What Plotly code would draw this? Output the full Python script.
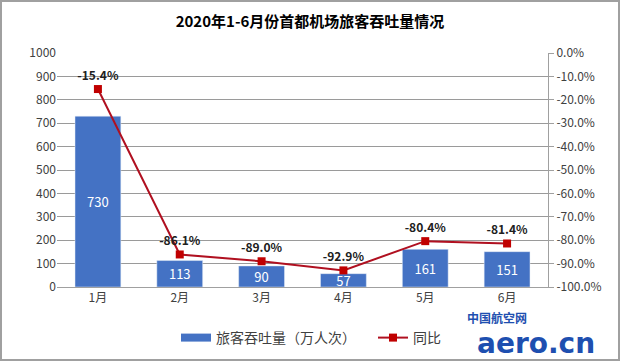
import plotly.graph_objects as go

months = ["1月", "2月", "3月", "4月", "5月", "6月"]
passengers = [730, 113, 90, 57, 161, 151]
yoy = [-15.4, -86.1, -89.0, -92.9, -80.4, -81.4]
left_ticks = list(range(0, 1001, 100))
right_ticks = list(range(0, -101, -10))

FONT = "Noto Sans CJK SC, DejaVu Sans, sans-serif"

fig = go.Figure()
fig.add_trace(go.Bar(
    x=months, y=passengers, name="旅客吞吐量（万人次）", showlegend=False,
    marker=dict(color="#4472C4"), width=0.56,
    text=[str(v) for v in passengers], textposition="inside",
    insidetextanchor="middle", textangle=0, constraintext="none",
    textfont=dict(color="white", size=13, family=FONT),
    cliponaxis=False,
    yaxis="y",
))
# legend proxy for the bar series (wide rectangle swatch)
fig.add_trace(go.Scatter(
    x=[None], y=[None], name="旅客吞吐量（万人次）", mode="lines",
    line=dict(color="#4472C4", width=8), yaxis="y", showlegend=True,
))
fig.add_trace(go.Scatter(
    x=months, y=yoy, name="同比", mode="lines+markers+text",
    line=dict(color="#B01020", width=2),
    marker=dict(symbol="square", size=8, color="#C00000"),
    text=[f"<b>{v:.1f}%</b>" for v in yoy], textposition="top center",
    textfont=dict(color="#202020", size=12, family=FONT),
    cliponaxis=False,
    yaxis="y2",
))

fig.update_layout(
    width=620, height=361,
    margin=dict(l=57, r=72, t=53, b=74, autoexpand=False),
    paper_bgcolor="white", plot_bgcolor="white",
    font=dict(family=FONT, size=12, color="#404040"),
    title=dict(text="<b>2020年1-6月份首都机场旅客吞吐量情况</b>",
               x=0.5, xanchor="center", yref="container", y=0.94,
               yanchor="middle",
               font=dict(size=15, color="black", family=FONT)),
    xaxis=dict(showline=True, linecolor="#A0A0A0", linewidth=1,
               automargin=False,
               tickfont=dict(size=12, color="#404040"), ticks=""),
    yaxis=dict(range=[0, 1000], tickvals=left_ticks, automargin=False,
               showgrid=True, gridcolor="#9A9A9A", gridwidth=1,
               zeroline=False, showline=False,
               tickfont=dict(size=12, color="#404040")),
    yaxis2=dict(range=[-100, 0], tickvals=right_ticks, automargin=False,
                ticktext=[f"{v:.1f}%" for v in right_ticks],
                overlaying="y", side="right", showgrid=False,
                zeroline=False, showline=True, linecolor="#A0A0A0",
                ticks="outside", ticklen=5, tickcolor="#A0A0A0",
                tickfont=dict(size=12, color="#404040")),
    legend=dict(orientation="h", x=(176-57)/491, xanchor="left",
                yref="container", y=(361-338)/361, yanchor="middle",
                font=dict(size=14, color="#404040"),
                bgcolor="rgba(0,0,0,0)", itemwidth=30,
                entrywidth=152, entrywidthmode="pixels"),
    bargap=0.44,
)

fig.add_shape(type="rect", xref="paper", yref="paper",
              x0=-56/491, x1=1+71/491, y0=-73/234, y1=1+52/234,
              line=dict(color="#A0A0A0", width=2))
fig.add_annotation(text="<b>中国航空网</b>", xref="paper", yref="paper",
                   x=(497-57)/491, y=(287-317)/234, showarrow=False,
                   xanchor="center", yanchor="middle",
                   font=dict(size=12, color="#1E4FB0", family=FONT))
fig.add_annotation(text="<b>aero.cn</b>", xref="paper", yref="paper",
                   x=(536-57)/491, y=(287-343)/234, showarrow=False,
                   xanchor="center", yanchor="middle",
                   font=dict(size=28, color="#1E4FB0", family="DejaVu Sans"))

fig.write_html("out.html", config={"displayModeBar": False})

# remove the browser's default body margin so the figure fills the window
with open("out.html", encoding="utf-8") as f:
    html = f.read()
html = html.replace("<head>", "<head><style>html,body{margin:0;padding:0;overflow:hidden}</style>", 1)
with open("out.html", "w", encoding="utf-8") as f:
    f.write(html)
